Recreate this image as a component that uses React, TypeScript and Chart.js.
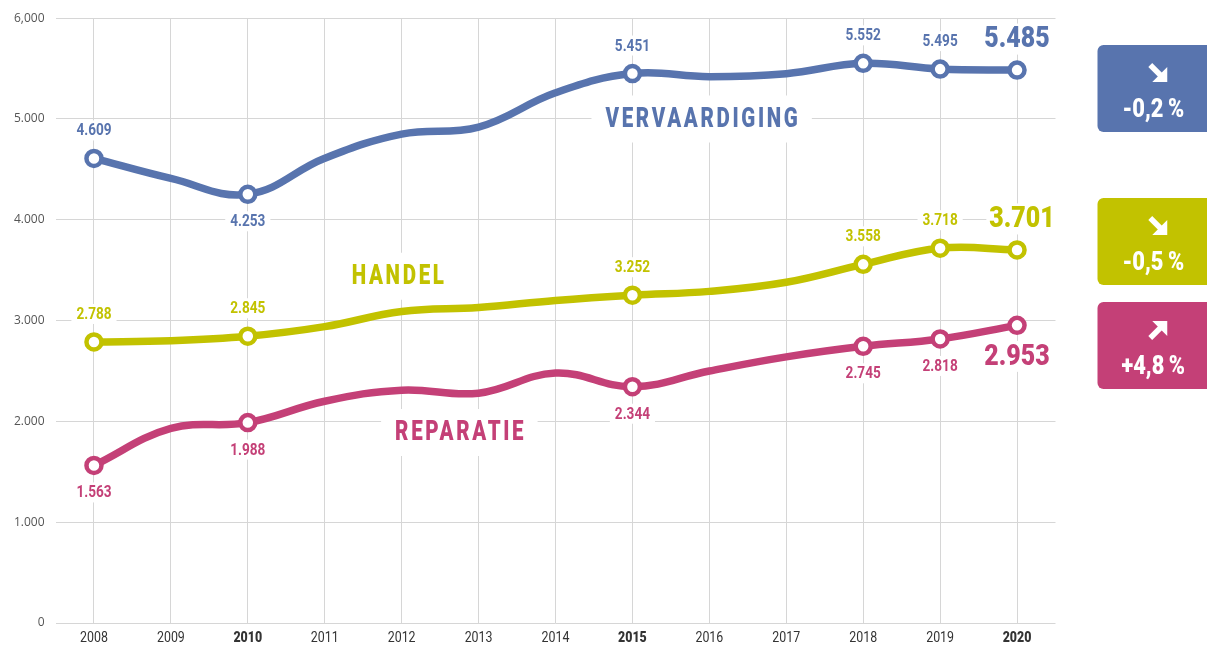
import React, { useEffect, useRef } from "react";
import { Chart, registerables } from "chart.js";

Chart.register(...registerables);

// ---------- DATA ----------
const years = ["2008", "2009", "2010", "2011", "2012", "2013", "2014", "2015", "2016", "2017", "2018", "2019", "2020"];
const boldYears = ["2010", "2015", "2020"];
const markedYears = ["2008", "2010", "2015", "2018", "2019", "2020"];

const vervaardiging = [4609, 4410, 4253, 4610, 4850, 4920, 5260, 5451, 5420, 5450, 5552, 5495, 5485];
const handel = [2788, 2800, 2845, 2940, 3090, 3130, 3200, 3252, 3290, 3380, 3558, 3718, 3701];
const reparatie = [1563, 1930, 1988, 2200, 2310, 2280, 2480, 2344, 2500, 2640, 2745, 2818, 2953];

const yTickValues = [0, 1000, 2000, 3000, 4000, 5000, 6000];
const yTickLabels = ["0", "1.000", "2.000", "3.000", "4.000", "5.000", "6,000"];

const seriesNames = ["VERVAARDIGING", "HANDEL", "REPARATIE"];
const changeLabels = ["-0,2\u2009%", "-0,5\u2009%", "+4,8\u2009%"];
const changeDirections = ["down", "down", "up"];

// ---------- STYLE ----------
const COLORS = ["#5874AE", "#C2C200", "#C44077"];
const GRID = "#d6d6d6";
const CONDENSED = "Roboto, 'Noto Sans', sans-serif";

// label side per marked point (up/down) for each series
const labelSides = [
  ["up", "down", "up", "up", "up"],
  ["up", "up", "up", "up", "up"],
  ["down", "down", "down", "down", "down"],
];
// series-name label anchors (category index, value)
const nameAnchors = [
  { x: 7.9, y: 5000 },
  { x: 3.95, y: 3440 },
  { x: 4.75, y: 1890 },
];
// badge vertical placement
const badgeBoxes = [
  { top: 45, bottom: 132 },
  { top: 198, bottom: 285 },
  { top: 302, bottom: 389 },
];

const fmt = (v: number) => {
  const s = String(v);
  return s.length > 3 ? s.slice(0, s.length - 3) + "." + s.slice(s.length - 3) : s;
};

function drawText(
  ctx: CanvasRenderingContext2D,
  text: string,
  x: number,
  y: number,
  size: number,
  color: string,
  sx: number,
  opts: { bg?: boolean; spacing?: number; padX?: number; padY?: number; weight?: string; align?: string } = {}
) {
  ctx.save();
  ctx.font = `${opts.weight || "bold"} ${size}px ${CONDENSED}`;
  (ctx as any).letterSpacing = `${opts.spacing || 0}px`;
  const w = ctx.measureText(text).width * sx - (opts.spacing || 0) * sx;
  let cx = x;
  if (opts.align === "left") cx = x + w / 2;
  if (opts.bg) {
    const px = opts.padX ?? 4;
    const py = opts.padY ?? 3;
    ctx.fillStyle = "#ffffff";
    ctx.fillRect(cx - w / 2 - px, y - size * 0.5 - py, w + px * 2, size + py * 2);
  }
  ctx.translate(cx - w / 2, y);
  ctx.scale(sx, 1);
  ctx.textAlign = "left";
  ctx.textBaseline = "middle";
  ctx.fillStyle = color;
  ctx.fillText(text, 0, 1);
  ctx.restore();
}

function drawArrow(ctx: CanvasRenderingContext2D, cx: number, cy: number, dir: string) {
  ctx.save();
  ctx.translate(cx, cy);
  if (dir === "up") ctx.scale(1, -1);
  ctx.fillStyle = "#ffffff";
  ctx.strokeStyle = "#ffffff";
  ctx.lineWidth = 5.5;
  ctx.beginPath();
  ctx.moveTo(-8, -8);
  ctx.lineTo(3, 3);
  ctx.stroke();
  ctx.beginPath();
  ctx.moveTo(9, 9);
  ctx.lineTo(9, -6);
  ctx.lineTo(-6, 9);
  ctx.closePath();
  ctx.fill();
  ctx.restore();
}

const seriesData = [vervaardiging, handel, reparatie];

const annotationPlugin = {
  id: "annotations",
  beforeDatasetsDraw(chart: any) {
    const ctx: CanvasRenderingContext2D = chart.ctx;
    const xs = chart.scales.x;
    const ys = chart.scales.y;

    // data labels
    seriesData.forEach((data, si) => {
      markedYears.forEach((yr, mi) => {
        const idx = years.indexOf(yr);
        const px = xs.getPixelForValue(idx);
        const py = ys.getPixelForValue(data[idx]);
        const isLast = idx === years.length - 1;
        if (isLast) {
          const dy = si === 2 ? 31 : -31;
          const dx = si === 1 ? 5 : 0;
          drawText(ctx, fmt(data[idx]), px + dx, py + dy, 29, COLORS[si], 0.86, {
            bg: true,
            padX: 3,
            padY: 1,
            weight: "900",
          });
        } else {
          const side = labelSides[si][mi];
          drawText(ctx, fmt(data[idx]), px, py + (side === "up" ? -28 : 27), 16, COLORS[si], 0.85, {
            bg: true,
            padX: 5,
            padY: 2,
          });
        }
      });
    });

    // series names
    seriesNames.forEach((name, si) => {
      const a = nameAnchors[si];
      const px = xs.getPixelForValue(a.x);
      const py = ys.getPixelForValue(a.y);
      drawText(ctx, name, px, py, 27, COLORS[si], 0.76, {
        bg: true,
        spacing: 3.5,
        padX: 14,
        padY: 10,
        weight: "900",
      });
    });

    // x tick labels
    years.forEach((yr, i) => {
      const px = xs.getPixelForValue(i);
      drawText(ctx, yr, px, chart.chartArea.bottom + 14, 15.5, "#333333", 0.8, {
        weight: boldYears.includes(yr) ? "900" : "normal",
      });
    });
  },
  afterDraw(chart: any) {
    const ctx: CanvasRenderingContext2D = chart.ctx;
    const left = chart.chartArea.right + 42;
    const right = chart.width;
    const cx = (left + right) / 2;
    badgeBoxes.forEach((b, si) => {
      ctx.save();
      ctx.fillStyle = COLORS[si];
      ctx.beginPath();
      (ctx as any).roundRect(left, b.top, right - left + 6, b.bottom - b.top, 6);
      ctx.fill();
      ctx.restore();
      drawArrow(ctx, cx + 6, b.top + 28, changeDirections[si]);
      drawText(ctx, changeLabels[si], cx + 1, b.top + 64, 26, "#ffffff", 0.84, { weight: "900" });
    });
  },
};

export default function App() {
  const ref = useRef<HTMLCanvasElement | null>(null);

  useEffect(() => {
    if (!ref.current) return;
    const makeDs = (data: number[], color: string) => ({
      data,
      borderColor: color,
      borderWidth: 7.5,
      tension: 0.4,
      pointRadius: years.map((y) => (markedYears.includes(y) ? 7.5 : 0)),
      pointBorderWidth: 4.5,
      pointBackgroundColor: "#ffffff",
      pointBorderColor: color,
      fill: false,
      clip: false as any,
    });
    const chart = new Chart(ref.current, {
      type: "line",
      data: {
        labels: years,
        datasets: seriesData.map((d, i) => makeDs(d, COLORS[i])),
      },
      options: {
        responsive: false,
        animation: false,
        events: [],
        layout: { padding: { left: 0, top: 18, right: 151.5, bottom: 0 } },
        plugins: { legend: { display: false }, tooltip: { enabled: false } },
        scales: {
          x: {
            type: "category",
            offset: true,
            grid: { color: GRID, lineWidth: 1, drawTicks: false, offset: false },
            border: { display: false },
            ticks: { display: false },
            afterFit: (s: any) => {
              s.height = 26;
            },
          },
          y: {
            min: 0,
            max: 6000,
            grid: { color: GRID, lineWidth: 1, drawTicks: false },
            border: { display: false },
            afterBuildTicks: (s: any) => {
              s.ticks = yTickValues.map((v) => ({ value: v }));
            },
            ticks: {
              padding: 11,
              color: "#555555",
              font: { family: "'Open Sans', sans-serif", size: 12 },
              callback: (_v: any, i: number) => yTickLabels[i],
            },
            afterFit: (s: any) => {
              s.width = 55.5;
            },
          },
        },
      },
      plugins: [annotationPlugin],
    });
    return () => chart.destroy();
  }, []);

  return (
    <div style={{ position: "fixed", left: 0, top: 0, width: 1207, height: 649, background: "#fff" }}>
      <canvas ref={ref} width={1207} height={649} style={{ display: "block" }} />
    </div>
  );
}
